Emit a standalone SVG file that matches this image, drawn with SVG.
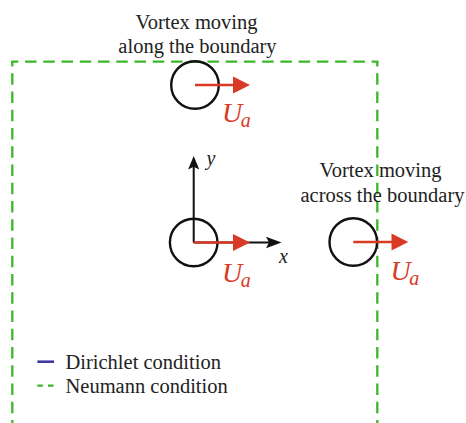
<svg xmlns="http://www.w3.org/2000/svg" width="466" height="423" viewBox="0 0 466 423">
<style>
.bnd{fill:none;stroke:#3cb72a;stroke-width:2.3;stroke-dasharray:11.5 6.74}
.vtx{fill:none;stroke:#111;stroke-width:2.4}
.vel{fill:none;stroke:#d93a26;stroke-width:2.4}
.velh{fill:#d93a26}
.ax{fill:none;stroke:#111;stroke-width:2}
.axh{fill:#111}
.lbl{font-size:20.5px;fill:#222}
.u{font-style:italic;fill:#d93a26;font-size:28px}
.axl{font-style:italic;font-size:20px;fill:#222}
</style>
<g id="boundary">
<path class="bnd" d="M11.2,61.7 H378.4" stroke-dashoffset="4.4"/>
<path class="bnd" d="M12.3,61.7 V423" stroke-dashoffset="6.6"/>
<path class="bnd" d="M377.3,61.7 V423" stroke-dashoffset="6.6"/>
</g>
<g id="axes">
<line class="ax" x1="193.7" y1="242.5" x2="193.7" y2="166"/>
<path class="axh" d="M193.7,156 L199.3,169.5 L193.7,166.8 L188.1,169.5 Z"/>
<line class="ax" x1="193.7" y1="242.5" x2="270" y2="242.5"/>
<path class="axh" d="M281.5,242.5 L266,236.8 L269,242.5 L266,248.2 Z"/>
<text class="axl" x="206.5" y="165" font-family="Liberation Serif, serif">y</text>
<text class="axl" x="279" y="263" font-family="Liberation Serif, serif">x</text>
</g>
<g id="vortex-top">
<circle class="vtx" cx="195" cy="85" r="23.8"/>
<line class="vel" x1="195" y1="85" x2="236" y2="85"/>
<path class="velh" d="M250,85 L233,76.5 L233,93.5 Z"/>
<text class="u" x="222" y="121.7" font-family="Liberation Serif, serif">U<tspan font-size="20" dy="5" dx="-1.5">a</tspan></text>
</g>
<g id="vortex-center">
<circle class="vtx" cx="193.7" cy="242.5" r="23.8"/>
<line class="vel" x1="193.7" y1="242.5" x2="236" y2="242.5"/>
<path class="velh" d="M250,242.5 L233,234 L233,251 Z"/>
<text class="u" x="222" y="281.7" font-family="Liberation Serif, serif">U<tspan font-size="20" dy="5" dx="-1.5">a</tspan></text>
</g>
<g id="vortex-right">
<circle class="vtx" cx="353.3" cy="242" r="23.8"/>
<line class="vel" x1="353.3" y1="242" x2="394" y2="242"/>
<path class="velh" d="M408.3,242 L391.5,233.5 L391.5,250.5 Z"/>
<text class="u" x="390.5" y="280" font-family="Liberation Serif, serif">U<tspan font-size="20" dy="5" dx="-1.5">a</tspan></text>
</g>
<g id="label-top">
<text class="lbl" x="196.5" y="29.3" text-anchor="middle" font-family="Liberation Serif, serif">Vortex moving</text>
<text class="lbl" x="197.5" y="53" text-anchor="middle" font-family="Liberation Serif, serif">along the boundary</text>
</g>
<g id="label-right">
<text class="lbl" x="380.5" y="177.3" text-anchor="middle" font-family="Liberation Serif, serif">Vortex moving</text>
<text class="lbl" x="382.5" y="201.7" text-anchor="middle" font-family="Liberation Serif, serif">across the boundary</text>
</g>
<g id="legend">
<line x1="37.3" y1="361.7" x2="54" y2="361.7" stroke="#40389c" stroke-width="2.6"/>
<text class="lbl" x="65.5" y="369.3" font-family="Liberation Serif, serif">Dirichlet condition</text>
<line x1="37.3" y1="385.7" x2="54" y2="385.7" stroke="#3cb72a" stroke-width="2.3" stroke-dasharray="5.5 5.2"/>
<text class="lbl" x="65.5" y="392.7" font-family="Liberation Serif, serif">Neumann condition</text>
</g>
</svg>
